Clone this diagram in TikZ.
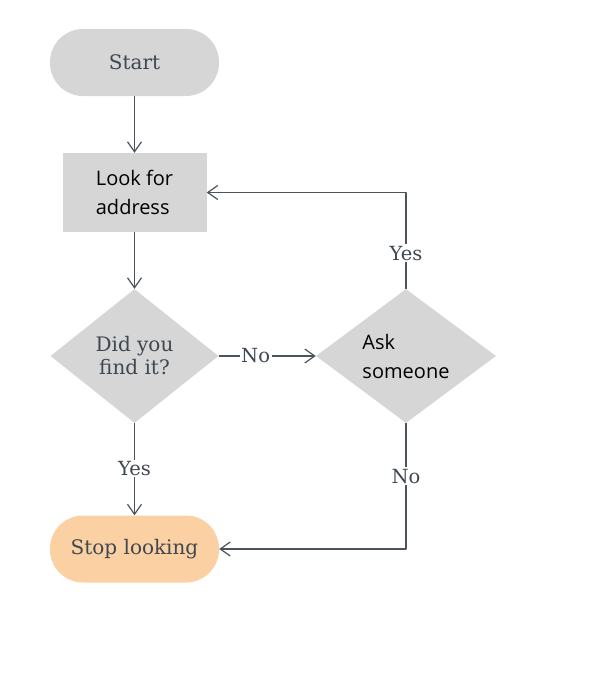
\documentclass[tikz,border=0pt]{standalone}
\usepackage{fontspec}
\setmainfont{DejaVu Serif}
\newfontfamily\plainsans{Open Sans}
\usetikzlibrary{shapes.geometric,arrows.meta}
\definecolor{boxgray}{HTML}{D6D6D6}
\definecolor{stoporange}{HTML}{FBD1A3}
\definecolor{linegray}{HTML}{4B535C}
\definecolor{textgray}{HTML}{3F4750}
\begin{document}
\begin{tikzpicture}[x=1pt,y=-1pt,line join=round]
    \tikzstyle{pill} = [rectangle,rounded corners=33pt,minimum width=169pt,
                        minimum height=67pt,text=textgray,font=\fontsize{20}{24}\selectfont]
    \tikzstyle{procbox} = [rectangle,fill=boxgray,minimum width=144pt,minimum height=79pt,
                        align=left,font=\plainsans\fontsize{20}{29}\selectfont]
    \tikzstyle{decide} = [diamond,fill=boxgray,inner sep=0pt,align=center]
    \tikzstyle{flow} = [draw=linegray,line width=1.2pt,
                        -{Straight Barb[length=10pt,width=14pt,line width=1.2pt]}]
    \tikzstyle{lbl} = [fill=white,text=textgray,inner sep=1.5pt,
                        font=\fontsize{19.5}{23}\selectfont]
    \useasboundingbox (0,0) rectangle (591,677);
    \node[pill,fill=boxgray] (start) at (134.5,62.5) {Start};
    \node[procbox] (look) at (134.5,192.5) {Look for\\address};
    \node[decide,minimum width=168pt,minimum height=134pt,text=textgray,
          font=\fontsize{20}{23}\selectfont] (found) at (134.5,356) {Did you\\find it?};
    \node[decide,minimum width=180pt,minimum height=134pt,align=left,
          font=\plainsans\fontsize{20}{29}\selectfont] (ask) at (406,356) {Ask\\someone};
    \node[pill,fill=stoporange] (stop) at (134.5,549) {Stop looking};
    \draw[flow] (start) -- (look);
    \draw[flow] (look) -- (found);
    \draw[flow] (found) -- node[lbl,pos=0.38] {No} (ask);
    \draw[flow] (ask.north) |- node[lbl,pos=0.185] {Yes} (look.east);
    \draw[flow] (found) -- node[lbl,pos=0.49] {Yes} (stop);
    \draw[flow] (ask.south) |- node[lbl,pos=0.21] {No} (stop.east);
\end{tikzpicture}
\end{document}
